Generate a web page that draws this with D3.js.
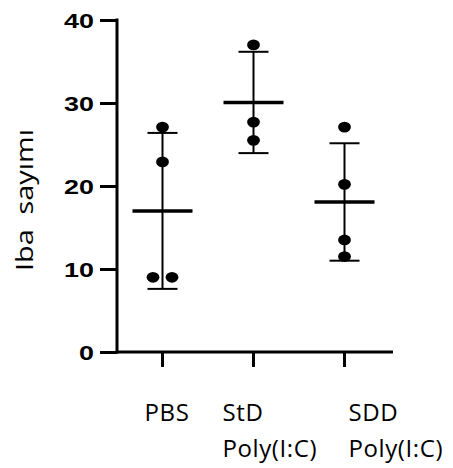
<!DOCTYPE html>
<html>
<head>
<meta charset="utf-8">
<script src="https://cdn.jsdelivr.net/npm/d3@7"></script>
<style>
  body { margin: 0; background: #fff; }
  svg { display: block; }
</style>
</head>
<body>
<div id="chart"></div>
<script>
// groups shown on the x axis, each label can have two lines
const groups = ["PBS", "StD Poly(I:C)", "SDD Poly(I:C)"];
const groupLabels = [["PBS"], ["StD", "Poly(I:C)"], ["SDD", "Poly(I:C)"]];

// individual counts
const pbsValues = [27.1, 22.9, 9.0, 9.0];
const stdValues = [37.0, 27.7, 25.5];
const sddValues = [27.1, 20.2, 13.5, 11.5];
const allValues = [pbsValues, stdValues, sddValues];

const yTicks = [0, 10, 20, 30, 40];
const yTitle = "Iba  sayımı";

const width = 453, height = 468;

const svg = d3.select("#chart").append("svg")
    .attr("width", width)
    .attr("height", height);

const y = d3.scaleLinear().domain([0, 40]).range([352, 20]);
const x = d3.scalePoint().domain(groups).range([117, 390]).padding(0.5);

// y axis
const yAxis = svg.append("g")
    .attr("transform", "translate(117,0)")
    .call(d3.axisLeft(y).tickValues(yTicks).tickSize(17).tickSizeOuter(0));

yAxis.select(".domain").remove();
yAxis.selectAll(".tick line")
    .attr("stroke", "#000")
    .attr("stroke-width", 3);
yAxis.selectAll(".tick text")
    .attr("x", 0)
    .attr("dy", "0.36em")
    .attr("transform", "translate(-23,0) scale(1.38,1)")
    .attr("fill", "#000")
    .attr("font-family", "'Liberation Sans', Arial, sans-serif")
    .attr("font-weight", "bold")
    .attr("font-size", 19.5);

// axis lines (drawn after so corner is clean)
svg.append("line")
    .attr("x1", 117).attr("x2", 117)
    .attr("y1", y(40) - 1.5).attr("y2", y(0) + 1.5)
    .attr("stroke", "#000").attr("stroke-width", 3);
svg.append("line")
    .attr("x1", 117).attr("x2", 393)
    .attr("y1", y(0)).attr("y2", y(0))
    .attr("stroke", "#000").attr("stroke-width", 3);

// x ticks
svg.append("g").selectAll("line")
    .data(groups)
    .enter().append("line")
    .attr("x1", d => x(d)).attr("x2", d => x(d))
    .attr("y1", y(0)).attr("y2", y(0) + 15)
    .attr("stroke", "#000").attr("stroke-width", 3);

// x labels
const labelShift = [-18, -31, 4];
const xl = svg.append("g").selectAll("text")
    .data(groupLabels)
    .enter().append("text")
    .attr("font-family", "'Open Sans', 'Noto Sans', sans-serif")
    .attr("font-size", 24)
    .attr("letter-spacing", 0.6)
    .attr("fill", "#000");
xl.each(function(lines, i) {
    const t = d3.select(this);
    lines.forEach((s, j) => {
        t.append("tspan")
            .attr("x", x(groups[i]) + labelShift[i])
            .attr("y", 421 + j * 36)
            .text(s);
    });
});

// y title
svg.append("text")
    .attr("transform", "translate(33,271) scale(0.83,1) rotate(-90)")
    .attr("font-family", "'Open Sans', 'Noto Sans', sans-serif")
    .attr("font-size", 28.8)
    .attr("fill", "#000")
    .style("white-space", "pre")
    .text(yTitle);

// mean +/- SD and dots
allValues.forEach((vals, i) => {
    const cx = x(groups[i]);
    const m = d3.mean(vals);
    const sd = d3.deviation(vals);
    const g = svg.append("g");

    g.append("line")
        .attr("x1", cx).attr("x2", cx)
        .attr("y1", y(m + sd)).attr("y2", y(m - sd))
        .attr("stroke", "#000").attr("stroke-width", 2);
    [m + sd, m - sd].forEach(v => {
        g.append("line")
            .attr("x1", cx - 15).attr("x2", cx + 15)
            .attr("y1", y(v)).attr("y2", y(v))
            .attr("stroke", "#000").attr("stroke-width", 2);
    });
    g.append("line")
        .attr("x1", cx - 30).attr("x2", cx + 30)
        .attr("y1", y(m)).attr("y2", y(m))
        .attr("stroke", "#000").attr("stroke-width", 3.5);

    // spread dots that share a value side by side
    const counts = d3.rollup(vals, v => v.length, d => d);
    const seen = new Map();
    g.selectAll("ellipse")
        .data(vals)
        .enter().append("ellipse")
        .attr("cx", d => {
            const n = counts.get(d);
            const k = seen.get(d) || 0;
            seen.set(d, k + 1);
            return cx + (k - (n - 1) / 2) * 19;
        })
        .attr("cy", d => y(d))
        .attr("rx", 6.4)
        .attr("ry", 5.4)
        .attr("fill", "#000");
});
</script>
</body>
</html>
